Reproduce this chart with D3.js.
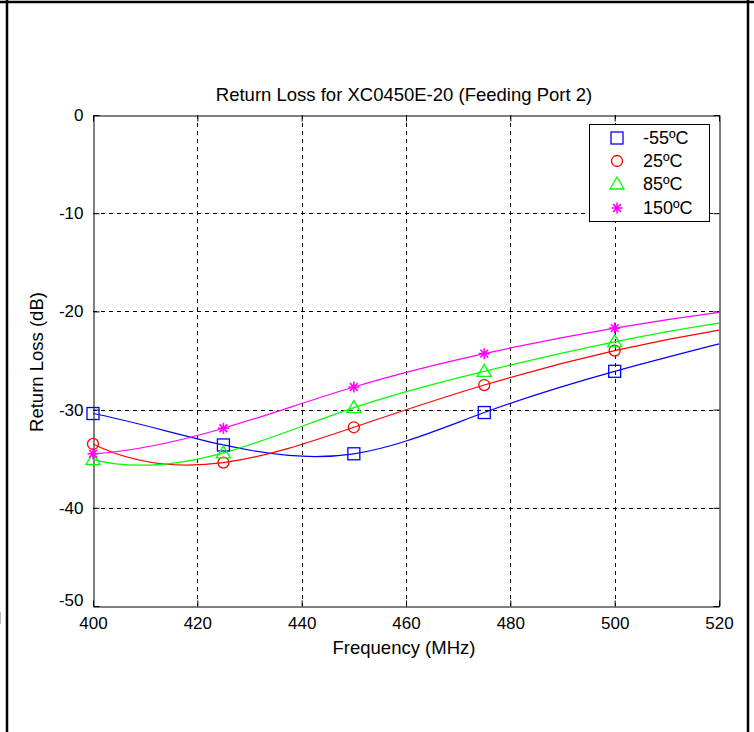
<!DOCTYPE html>
<html><head><meta charset="utf-8">
<script src="https://cdn.jsdelivr.net/npm/d3@7"></script>
<style>
html,body{margin:0;padding:0;background:#fff;}
svg{display:block;}
text{font-family:"Liberation Sans",Arial,sans-serif;fill:#000;}
</style></head>
<body>
<svg id="chart" width="754" height="732"></svg>
<script>
const title = "Return Loss for XC0450E-20 (Feeding Port 2)";
const xLabel = "Frequency (MHz)";
const yLabel = "Return Loss (dB)";
const xTicks = [400, 420, 440, 460, 480, 500, 520];
const yTicks = [0, -10, -20, -30, -40, -50];
const freqs = [400, 425, 450, 475, 500, 520];
const markerFreqs = [400, 425, 450, 475, 500];
const seriesNames = ["-55ºC", "25ºC", "85ºC", "150ºC"];
const seriesColors = ["#0000ff", "#ff0000", "#00ff00", "#ff00ff"];
const seriesMarkers = ["square", "circle", "triangle", "star"];
const rlM55 = [-30.4, -33.6, -34.5, -30.3, -26.1, -23.3];
const rl25  = [-33.5, -35.4, -31.8, -27.5, -24.0, -21.9];
const rl85  = [-35.1, -34.4, -29.8, -26.1, -23.1, -21.2];
const rl150 = [-34.5, -31.9, -27.7, -24.3, -21.7, -20.1];
const seriesValues = [rlM55, rl25, rl85, rl150];

const svg = d3.select("#chart");
const L = 93, R = 719, T = 115, B = 606;
const x = d3.scaleLinear().domain([400, 520]).range([L, R]);
const y = d3.scaleLinear().domain([-50, 0]).range([B, T]);

// Custom D3 curve: not-a-knot cubic spline (as MATLAB's spline), drawn as exact Bezier segments
function solve(A, b) {
  const n = b.length;
  for (let i = 0; i < n; i++) {
    let p = i; for (let r = i + 1; r < n; r++) if (Math.abs(A[r][i]) > Math.abs(A[p][i])) p = r;
    [A[i], A[p]] = [A[p], A[i]]; [b[i], b[p]] = [b[p], b[i]];
    for (let r = i + 1; r < n; r++) { const f = A[r][i] / A[i][i];
      for (let c = i; c < n; c++) A[r][c] -= f * A[i][c]; b[r] -= f * b[i]; }
  }
  const s = new Array(n).fill(0);
  for (let i = n - 1; i >= 0; i--) { let v = b[i]; for (let c = i + 1; c < n; c++) v -= A[i][c] * s[c]; s[i] = v / A[i][i]; }
  return s;
}
function curveNotAKnot(context) {
  let xs = [], ys = [];
  return {
    areaStart() {}, areaEnd() {},
    lineStart() { xs = []; ys = []; },
    point(px, py) { xs.push(+px); ys.push(+py); },
    lineEnd() {
      const n = xs.length;
      if (n < 4) { xs.forEach((v, i) => i ? context.lineTo(v, ys[i]) : context.moveTo(v, ys[i])); return; }
      const h = [], d = [];
      for (let i = 0; i < n - 1; i++) { h.push(xs[i + 1] - xs[i]); d.push((ys[i + 1] - ys[i]) / h[i]); }
      const A = Array.from({length: n}, () => new Array(n).fill(0)), b = new Array(n).fill(0);
      A[0][0] = h[1]; A[0][1] = h[0] + h[1];
      b[0] = ((h[0] + 2 * (h[0] + h[1])) * h[1] * d[0] + h[0] * h[0] * d[1]) / (h[0] + h[1]);
      for (let i = 1; i < n - 1; i++) {
        A[i][i - 1] = h[i]; A[i][i] = 2 * (h[i - 1] + h[i]); A[i][i + 1] = h[i - 1];
        b[i] = 3 * (h[i] * d[i - 1] + h[i - 1] * d[i]);
      }
      const a = h[n - 2], c = h[n - 3];
      A[n - 1][n - 2] = a + c; A[n - 1][n - 1] = c;
      b[n - 1] = (a * a * d[n - 3] + (2 * (c + a) + a) * c * d[n - 2]) / (c + a);
      const s = solve(A, b);
      context.moveTo(xs[0], ys[0]);
      for (let i = 0; i < n - 1; i++) {
        const hh = h[i] / 3;
        context.bezierCurveTo(xs[i] + hh, ys[i] + s[i] * hh, xs[i + 1] - hh, ys[i + 1] - s[i + 1] * hh, xs[i + 1], ys[i + 1]);
      }
    }
  };
}

// outer frame
svg.append("line").attr("x1", 0).attr("x2", 754).attr("y1", 2).attr("y2", 2).attr("stroke", "#000").attr("stroke-width", 2.5);
svg.append("line").attr("x1", 7).attr("x2", 7).attr("y1", 0).attr("y2", 732).attr("stroke", "#000").attr("stroke-width", 2.5);
svg.append("line").attr("x1", 748).attr("x2", 748).attr("y1", 0).attr("y2", 732).attr("stroke", "#000").attr("stroke-width", 2.5);
svg.append("line").attr("x1", 0.5).attr("x2", 0.5).attr("y1", 612).attr("y2", 624).attr("stroke", "#bbb").attr("stroke-width", 1);

// grid
const g = svg.append("g");
g.selectAll(".gx").data(xTicks.slice(1, -1)).enter().append("line")
  .attr("x1", d => Math.round(x(d)) + 0.5).attr("x2", d => Math.round(x(d)) + 0.5)
  .attr("y1", T).attr("y2", B).attr("stroke", "#000").attr("stroke-dasharray", "4,4");
g.selectAll(".gy").data(yTicks.slice(1, -1)).enter().append("line")
  .attr("y1", d => Math.round(y(d)) + 0.5).attr("y2", d => Math.round(y(d)) + 0.5)
  .attr("x1", L).attr("x2", R).attr("stroke", "#000").attr("stroke-dasharray", "4,4");

// axes (inner ticks, MATLAB style)
const fmt = d => String(d);
const axB = d3.axisBottom(x).tickValues(xTicks).tickSizeInner(-6).tickSizeOuter(0).tickPadding(10).tickFormat(fmt);
const axT = d3.axisTop(x).tickValues(xTicks).tickSizeInner(-6).tickSizeOuter(0).tickFormat("");
const axLft = d3.axisLeft(y).tickValues(yTicks).tickSizeInner(-6).tickSizeOuter(0).tickPadding(10).tickFormat(fmt);
const axRgt = d3.axisRight(y).tickValues(yTicks).tickSizeInner(-6).tickSizeOuter(0).tickFormat("");
const styleAx = sel => { sel.selectAll("path").attr("stroke", "#000"); sel.selectAll("line").attr("stroke", "#000");
  sel.selectAll("text").attr("font-size", 17).attr("font-family", "Liberation Sans, Arial, sans-serif").attr("fill", "#000"); };
svg.append("g").attr("transform", `translate(0,${B + 0.5})`).call(axB).call(styleAx).selectAll("text").attr("dy", "0.71em");
svg.append("g").attr("transform", `translate(0,${T + 0.5})`).call(axT).call(styleAx);
const gl = svg.append("g").attr("transform", `translate(${L + 0.5},0)`).call(axLft).call(styleAx);
gl.selectAll(".tick").filter(d => d === -50).select("text").attr("dy", "-0.05em");
svg.append("g").attr("transform", `translate(${R + 0.5},0)`).call(axRgt).call(styleAx);

// labels
svg.append("text").attr("x", 404).attr("y", 101).attr("text-anchor", "middle").attr("font-size", 18.5).text(title);
svg.append("text").attr("x", 404).attr("y", 654).attr("text-anchor", "middle").attr("font-size", 18.5).text(xLabel);
svg.append("text").attr("transform", "translate(43,362) rotate(-90)").attr("text-anchor", "middle").attr("font-size", 18.5).text(yLabel);

// lines
const line = d3.line().x(d => x(d[0])).y(d => y(d[1])).curve(curveNotAKnot);
const plotG = svg.append("g");
seriesValues.forEach((vals, i) => {
  plotG.append("path").datum(freqs.map((f, j) => [f, vals[j]]))
    .attr("d", line).attr("fill", "none").attr("stroke", seriesColors[i]).attr("stroke-width", 1.2);
});

function drawMarker(sel, type, color, cx, cy) {
  const s = 6;
  if (type === "square") sel.append("rect").attr("x", cx - s).attr("y", cy - s).attr("width", 2 * s).attr("height", 2 * s)
      .attr("fill", "none").attr("stroke", color).attr("stroke-width", 1.3);
  else if (type === "circle") sel.append("circle").attr("cx", cx).attr("cy", cy).attr("r", 5.5)
      .attr("fill", "none").attr("stroke", color).attr("stroke-width", 1.3);
  else if (type === "triangle") sel.append("path")
      .attr("d", `M${cx},${cy - 7}L${cx + 7},${cy + 5}L${cx - 7},${cy + 5}Z`)
      .attr("fill", "none").attr("stroke", color).attr("stroke-width", 1.3);
  else {
    const r = 5.5, p = [];
    for (let k = 0; k < 4; k++) { const a = k * Math.PI / 4;
      p.push(`M${cx - r * Math.cos(a)},${cy - r * Math.sin(a)}L${cx + r * Math.cos(a)},${cy + r * Math.sin(a)}`); }
    sel.append("path").attr("d", p.join("")).attr("stroke", color).attr("stroke-width", 1.6).attr("fill", "none");
  }
}
seriesValues.forEach((vals, i) => {
  markerFreqs.forEach((f, j) => drawMarker(plotG, seriesMarkers[i], seriesColors[i], x(f), y(vals[j])));
});

// legend
const lg = svg.append("g");
lg.append("rect").attr("x", 589.5).attr("y", 124.5).attr("width", 120).attr("height", 97)
  .attr("fill", "#fff").attr("stroke", "#000");
const rowY = [138, 161, 184, 208];
seriesNames.forEach((n, i) => {
  drawMarker(lg, seriesMarkers[i], seriesColors[i], 617, rowY[i]);
  lg.append("text").attr("x", 643).attr("y", rowY[i]).attr("dy", "0.36em").attr("font-size", 18).text(n);
});
</script>
</body></html>
